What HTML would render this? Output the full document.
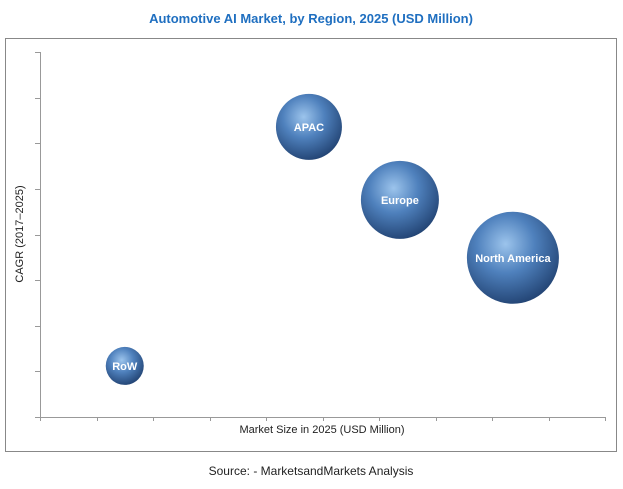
<!DOCTYPE html>
<html><head><meta charset="utf-8"><style>
body{margin:0;background:#fff;font-family:"Liberation Sans",sans-serif}
svg text{font-family:"Liberation Sans",sans-serif}
</style></head><body>
<svg id="c" width="623" height="484">
<defs>
<radialGradient id="g" cx="0.42" cy="0.35" r="0.7">
<stop offset="0" stop-color="#9cc4ec"/><stop offset="0.45" stop-color="#4f81bd"/><stop offset="1" stop-color="#1f3f6e"/>
</radialGradient>
</defs>
<text x="311" y="23" text-anchor="middle" font-size="13" font-weight="bold" fill="#1f6fc0">Automotive AI Market, by Region, 2025 (USD Million)</text>
<rect x="5.5" y="38.5" width="611" height="413" fill="none" stroke="#888"/>
<g id="axes"></g>
<g id="marks"></g>
<text x="23" y="234" transform="rotate(-90 23 234)" text-anchor="middle" font-size="11" fill="#222">CAGR (2017–2025)</text>
<text x="322" y="433" text-anchor="middle" font-size="11" fill="#222">Market Size in 2025 (USD Million)</text>
<text x="311" y="475" text-anchor="middle" font-size="12" fill="#222">Source: - MarketsandMarkets Analysis</text>
</svg>
<script>
const regions=["APAC","Europe","North America","RoW"];
const marketSize=[4.76,6.37,8.37,1.5];
const cagr=[6.36,4.76,3.49,1.12];
const bubbleSize=[33,39,46,19];
const xMax=10,yMax=8;
const X0=40,X1=605,Y0=417,Y1=52;
const sx=v=>X0+(X1-X0)*v/xMax, sy=v=>Y0-(Y0-Y1)*v/yMax;
const NS="http://www.w3.org/2000/svg";
const ax=document.getElementById('axes'),mk=document.getElementById('marks');
function ln(x1,y1,x2,y2,n){const l=document.createElementNS(NS,'line');l.setAttribute('x1',x1);l.setAttribute('y1',y1);l.setAttribute('x2',x2);l.setAttribute('y2',y2);l.setAttribute('stroke','#999');


ax.appendChild(l);}
ln(X0+.5,Y1,X0+.5,Y0,'y-axis-line');ln(X0,Y0+.5,X1,Y0+.5,'x-axis-line');
for(let i=0;i<=yMax;i++){const y=Math.round(sy(i))+.5;ln(35,y,X0,y,'y-tick');}
for(let i=0;i<=xMax;i++){const x=Math.round(sx(i))+.5;ln(x,Y0,x,421,'x-tick');}
regions.forEach((r,i)=>{const cx=sx(marketSize[i]),cy=sy(cagr[i]);
const c=document.createElementNS(NS,'circle');c.setAttribute('cx',cx);c.setAttribute('cy',cy);c.setAttribute('r',bubbleSize[i]);c.setAttribute('fill','url(#g)');


mk.appendChild(c);
const t=document.createElementNS(NS,'text');t.setAttribute('x',cx);t.setAttribute('y',cy+4);t.setAttribute('text-anchor','middle');t.setAttribute('font-size','11');t.setAttribute('font-weight','bold');t.setAttribute('fill','#fff');t.textContent=r;


mk.appendChild(t);});
</script>
</body></html>
